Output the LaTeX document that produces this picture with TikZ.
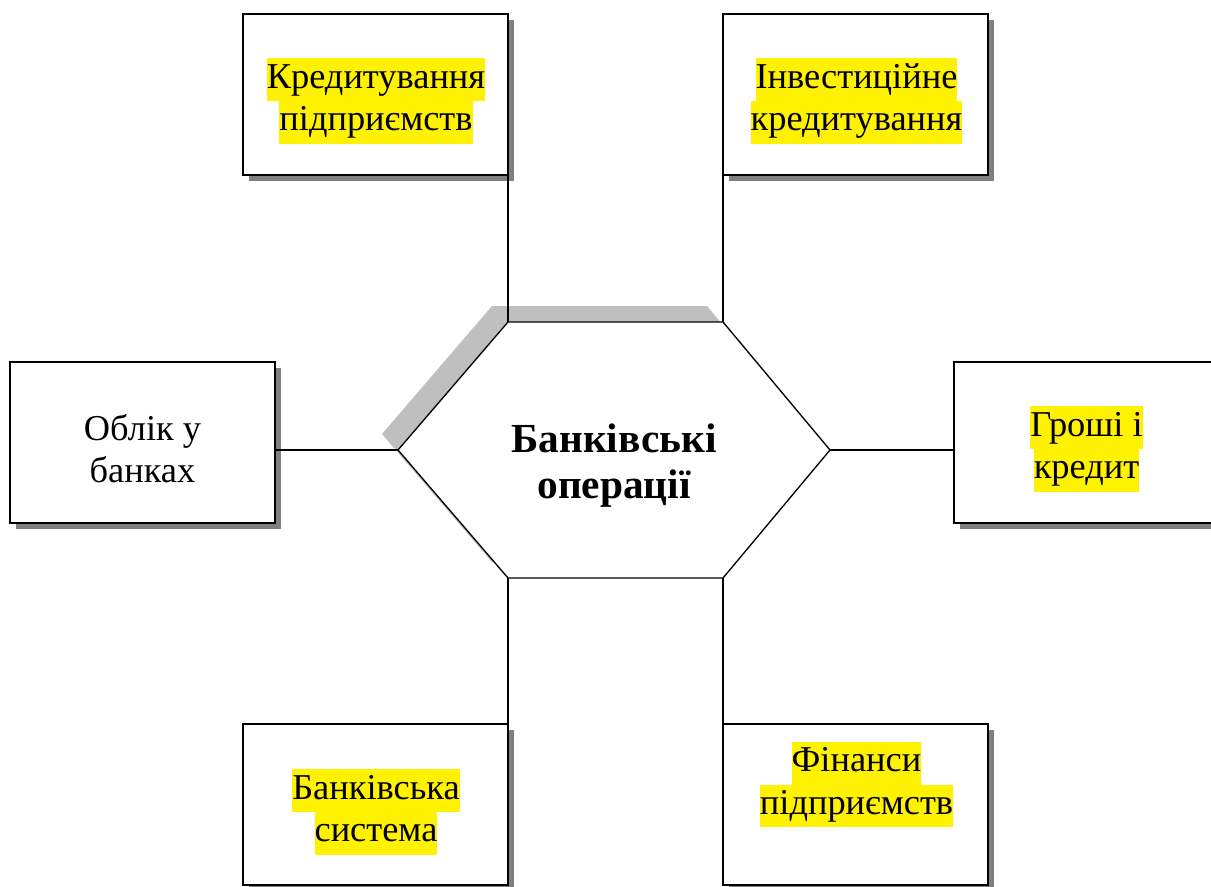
\documentclass[tikz,border=0pt]{standalone}
\usepackage{fontspec}
\setmainfont{Liberation Serif}
\usetikzlibrary{shadows}
\newcommand{\hlyellow}[1]{{\setlength{\fboxsep}{0pt}\colorbox{yellow}{\strut #1}}}

\begin{document}
\begin{tikzpicture}[x=0.75pt, y=-0.75pt,
	every node/.style={font=\fontsize{27.3}{32}\selectfont},
	blok/.style={draw, line width=1.5pt, fill=white, minimum width=198.75pt, minimum height=120.75pt,
		drop shadow={shadow xshift=4.5pt, shadow yshift=-4.5pt, fill=gray, opacity=1}},
	napys/.style={inner sep=0pt, align=center},
	zv/.style={line width=0.8pt}]
					\useasboundingbox (0,0) rectangle (1211,886);
					\clip (0,0) rectangle (1211,886);
					
					% блоки
					\node[blok] (kred) at (375.5,94.5) {};
					\node[blok] (invest) at (855.5,94.5) {};
					\node[blok] (oblik) at (142.5,442.5) {};
					\node[blok] (groshi) at (1086.5,442.5) {};
					\node[blok] (bank) at (375.5,804.5) {};
					\node[blok] (finansy) at (855.5,804.5) {};
					
					% шестикутник
					\fill[gray!50, shift={(-16,-16)}] (398,450) -- (508,322) -- (723,322) -- (830,450) -- (723,578) -- (508,578) -- cycle;
					\coordinate (hl) at (398,450);
					\coordinate (htl) at (508,322);
					\coordinate (htr) at (723,322);
					\coordinate (hr) at (830,450);
					\coordinate (hbr) at (723,578);
					\coordinate (hbl) at (508,578);
					\filldraw[fill=white, line width=1pt] (hl) -- (htl) -- (htr) -- (hr) -- (hbr) -- (hbl) -- cycle;
					\node[napys, font=\bfseries\fontsize{31}{34}\selectfont] (bo) at (614,466.5) {\strut Банківські\\\strut операції};
					
					\draw[zv] (htl) -- (htl |- kred.south);
					\draw[zv] (htr) -- (htr |- invest.south);
					\draw[zv] (hl) -- (hl -| oblik.east);
					\draw[zv] (hr) -- (hr -| groshi.west);
					\draw[zv] (hbl) -- (hbl |- bank.north);
					\draw[zv] (hbr) -- (hbr |- finansy.north);
					
					\node[napys] (kred-t) at (376,101) {\hlyellow{Кредитування}\\\hlyellow{підприємств}};
					\node[napys] (invest-t) at (856.5,101) {\hlyellow{Інвестиційне}\\\hlyellow{кредитування}};
					\node[napys] (oblik-t) at (142.5,453) {\strut Облік у\\\strut банках};
					\node[napys] (groshi-t) at (1086.5,449) {\hlyellow{Гроші і}\\\hlyellow{кредит}};
					\node[napys] (bank-t) at (376,812) {\hlyellow{Банківська}\\\hlyellow{система}};
					\node[napys] (finansy-t) at (856.5,784.5) {\hlyellow{Фінанси}\\\hlyellow{підприємств}};
				\end{tikzpicture}
\end{document}
